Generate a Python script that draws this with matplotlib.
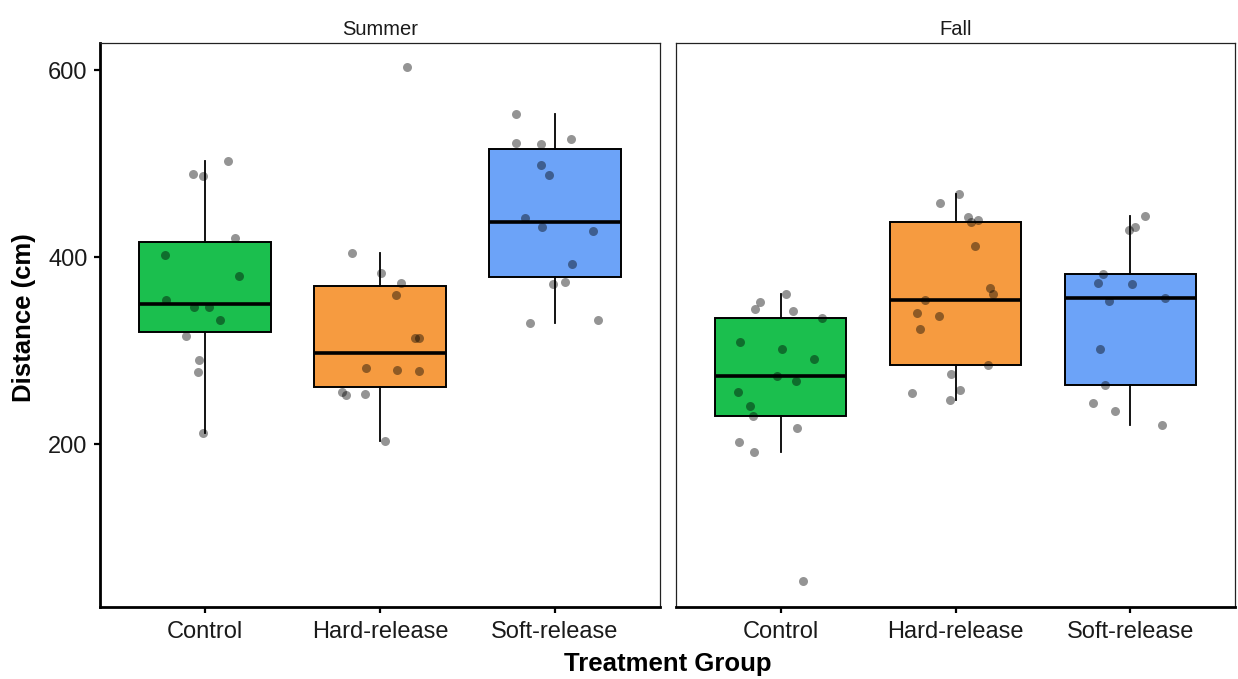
import matplotlib.pyplot as plt

plt.rcParams['font.family'] = ['Liberation Sans', 'DejaVu Sans']

groups = ['Control', 'Hard-release', 'Soft-release']
seasons = ['Summer', 'Fall']
colors = ['#1BBF4E', '#F69B40', '#6CA3F8']

# distances (cm), with the horizontal jitter of each point
summer_control = [502.9, 488.9, 486.6, 420.3, 402.1, 379.6, 353.6, 346.6, 347.0, 332.2, 315.9, 290.0, 277.2, 211.6]
summer_control_jit = [0.129, -0.071, -0.010, 0.169, -0.229, 0.194, -0.222, -0.061, 0.020, 0.088, -0.110, -0.033, -0.039, -0.012]
summer_hard = [603.0, 404.0, 383.4, 371.8, 359.4, 313.6, 313.6, 281.8, 279.5, 278.0, 255.4, 252.7, 253.5, 203.5]
summer_hard_jit = [0.155, -0.159, 0.004, 0.118, 0.094, 0.202, 0.220, -0.078, 0.096, 0.220, -0.218, -0.196, -0.084, 0.031]
summer_soft = [553.0, 522.3, 520.7, 526.2, 498.3, 487.4, 442.0, 432.3, 427.7, 392.7, 371.0, 373.7, 329.5, 332.6]
summer_soft_jit = [-0.224, -0.222, -0.078, 0.092, -0.082, -0.035, -0.169, -0.076, 0.216, 0.098, -0.014, 0.059, -0.145, 0.247]

fall_control = [360.6, 352.4, 344.7, 342.0, 335.3, 309.3, 301.6, 290.7, 272.9, 267.8, 256.2, 240.7, 229.8, 217.4, 201.9, 191.4, 53.3]
fall_control_jit = [0.031, -0.118, -0.147, 0.069, 0.235, -0.235, 0.008, 0.188, -0.020, 0.086, -0.245, -0.178, -0.157, 0.090, -0.241, -0.153, 0.127]
fall_hard = [467.2, 457.9, 442.8, 439.7, 437.0, 411.4, 367.1, 360.2, 353.6, 340.0, 336.5, 323.3, 284.1, 274.8, 257.4, 254.7, 246.9]
fall_hard_jit = [0.018, -0.088, 0.071, 0.129, 0.090, 0.112, 0.198, 0.214, -0.173, -0.220, -0.092, -0.204, 0.188, -0.024, 0.027, -0.247, -0.033]
fall_soft = [443.6, 432.7, 428.8, 381.9, 372.2, 371.4, 352.8, 355.9, 301.2, 263.6, 243.8, 235.6, 220.9]
fall_soft_jit = [0.083, 0.029, -0.008, -0.157, -0.182, 0.010, -0.122, 0.198, -0.173, -0.145, -0.212, -0.086, 0.180]

data = {
    'Summer': [(summer_control, summer_control_jit), (summer_hard, summer_hard_jit), (summer_soft, summer_soft_jit)],
    'Fall': [(fall_control, fall_control_jit), (fall_hard, fall_hard_jit), (fall_soft, fall_soft_jit)],
}

fig = plt.figure(figsize=(12.38, 6.79), dpi=100)
ax1 = fig.add_axes([100 / 1238, 1 - 607 / 679, 560 / 1238, 564 / 679])
ax2 = fig.add_axes([676 / 1238, 1 - 607 / 679, 559 / 1238, 564 / 679], sharey=ax1)

for ax, season in zip([ax1, ax2], seasons):
    vals = [d[0] for d in data[season]]
    bp = ax.boxplot(vals, positions=[1, 2, 3], widths=0.75, showfliers=False,
                    patch_artist=True, whis=1.5,
                    medianprops=dict(color='black', linewidth=2.6),
                    boxprops=dict(edgecolor='black', linewidth=1.4),
                    whiskerprops=dict(color='black', linewidth=1.3),
                    capprops=dict(linewidth=0))
    for patch, c in zip(bp['boxes'], colors):
        patch.set_facecolor(c)
    for i, (v, j) in enumerate(data[season]):
        xs = [i + 1 + o for o in j]
        ax.scatter(xs, v, s=42, color='black', alpha=0.42, linewidths=0, zorder=3)

    ax.set_xlim(0.4, 3.6)
    ax.set_ylim(25.7, 629)
    ax.set_xticks([1, 2, 3])
    ax.set_xticklabels(groups, fontsize=17)
    ax.set_title(season, fontsize=14.5, pad=6, color='#1a1a1a')
    for s in ['top', 'right', 'left']:
        ax.spines[s].set_linewidth(0.9)
        ax.spines[s].set_color('#222222')
    ax.spines['bottom'].set_linewidth(2)
    ax.tick_params(axis='x', length=4, width=1.6, pad=6, colors='black', labelcolor='#1a1a1a')

ax1.spines['left'].set_linewidth(2)
ax1.spines['left'].set_color('black')
ax1.set_yticks([200, 400, 600])
ax1.tick_params(axis='y', length=4, width=1.6, pad=5, labelsize=17, labelcolor='#1a1a1a')
ax2.tick_params(axis='y', left=False, labelleft=False)

fig.text(24 / 1238, 1 - 318 / 679, 'Distance (cm)', fontsize=18.5, fontweight='bold',
         rotation=90, ha='center', va='center')
fig.text(668 / 1238, 1 - 664 / 679, 'Treatment Group', fontsize=18.5, fontweight='bold',
         ha='center', va='center')

plt.savefig('out.png', dpi=100)
